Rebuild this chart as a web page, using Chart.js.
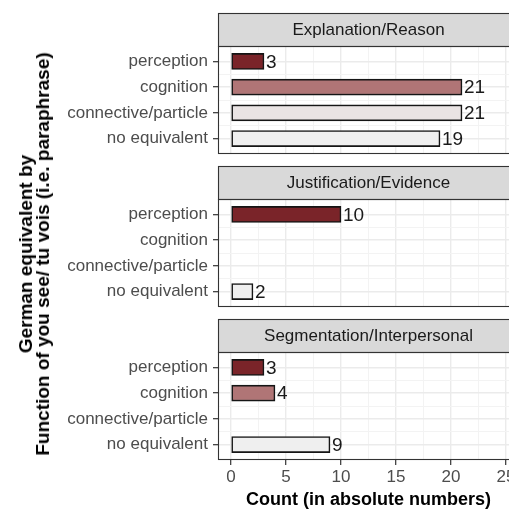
<!DOCTYPE html>
<html><head><meta charset="utf-8">
<script src="https://cdn.jsdelivr.net/npm/chart.js@4/dist/chart.umd.min.js"></script>
<style>
html,body{margin:0;padding:0;width:509px;height:511px;overflow:hidden;background:#fff;}
.wrap{position:absolute;left:0;width:520px;}
canvas{display:block;}
#ytitle{position:absolute;left:34px;top:254px;transform:translate(-50%,-50%) rotate(-90deg);font:bold 19px "Liberation Sans",Arial,sans-serif;color:#000;text-align:center;line-height:17px;white-space:nowrap;}
</style></head><body>
<div class="wrap" style="top:0;height:155px"><canvas id="c0" width="520" height="155"></canvas></div>
<div class="wrap" style="top:153px;height:155px"><canvas id="c1" width="520" height="155"></canvas></div>
<div class="wrap" style="top:306px;height:205px"><canvas id="c2" width="520" height="205"></canvas></div>
<div id="ytitle">German equivalent by<br>Function of you see/ tu vois (i.e. paraphrase)</div>
<script>
const categories = ['perception','cognition','connective/particle','no equivalent'];
const facets = ['Explanation/Reason','Justification/Evidence','Segmentation/Interpersonal'];
const explanationCounts = [3,21,21,19];
const justificationCounts = [10,null,null,2];
const segmentationCounts = [3,4,null,9];
const xTickValues = [0,5,10,15,20,25];
const xTitle = 'Count (in absolute numbers)';
const categoryColors = ['#7a2429','#b07576','#e9e3e3','#efefef'];

const FONT = '"Liberation Sans", Arial, sans-serif';
const xGridTicks = [];
xTickValues.forEach((v,i)=>{ xGridTicks.push(v); if(i<xTickValues.length-1) xGridTicks.push(v+ (xTickValues[1]-xTickValues[0])/2); });
const yGridTicks = [];
categories.forEach((c,i)=>{ yGridTicks.push(i+1); if(i<categories.length-1) yGridTicks.push(i+1.5); });

const decor = {
  id:'decor',
  afterDraw(chart, args, opts){
    const {ctx, chartArea:a} = chart;
    ctx.save();
    const stripTop = 13;
    ctx.fillStyle = '#d9d9d9';
    ctx.fillRect(a.left, stripTop, a.right-a.left, a.top-stripTop);
    ctx.strokeStyle = '#333333';
    ctx.lineWidth = 1.1;
    ctx.strokeRect(a.left+0.5, stripTop+0.5, a.right-a.left-1, a.top-stripTop);
    ctx.strokeRect(a.left+0.5, a.top+0.5, a.right-a.left-1, a.bottom-a.top-1);
    ctx.fillStyle = '#1a1a1a';
    ctx.font = '17px ' + FONT;
    ctx.textAlign = 'center';
    ctx.textBaseline = 'middle';
    ctx.fillText(opts.text, (a.left+a.right)/2, (stripTop+a.top)/2 + 1);
    ctx.restore();
  },
  afterDatasetsDraw(chart){
    const {ctx} = chart;
    const meta = chart.getDatasetMeta(0);
    const ds = chart.data.datasets[0].data;
    ctx.save();
    ctx.fillStyle = '#1a1a1a';
    ctx.font = '19px ' + FONT;
    ctx.textAlign = 'left';
    ctx.textBaseline = 'middle';
    meta.data.forEach((bar,i)=>{ ctx.fillText(String(ds[i].x), bar.x + 2, bar.y + 1); });
    ctx.restore();
  }
};

function makePanel(id, facet, counts, showX){
  const pts = counts.map((v,i)=> v==null ? null : {x:v, y:i+1}).filter(Boolean);
  new Chart(document.getElementById(id), {
    type:'bar',
    data:{datasets:[{
      data:pts,
      backgroundColor: c => categoryColors[(c.raw ? c.raw.y : 1) - 1],
      borderColor:'#151515', borderWidth:1.6, borderSkipped:false,
      barThickness:16
    }]},
    plugins:[decor],
    options:{
      indexAxis:'y', responsive:false, animation:false, events:[],
      layout:{padding:{top:46, right:1, bottom: showX?0:1, left:0}},
      plugins:{legend:{display:false}, tooltip:{enabled:false}, decor:{text:facet}},
      scales:{
        x:{
          type:'linear', min:-1.18, max:26.18, offset:false,
          afterBuildTicks: s => { s.ticks = xGridTicks.map(v=>({value:v})); },
          afterFit: s => { s.height = showX ? 51 : 0; s.paddingLeft = 0; s.paddingRight = 0; },
          border:{display:false},
          grid:{
            offset:false,
            color: c => (c.tick && c.tick.value % 5 === 0) ? '#ebebeb' : '#f3f3f3',
            lineWidth: c => (c.tick && c.tick.value % 5 === 0) ? 1.4 : 1,
            drawTicks: showX, tickLength:5,
            tickColor: c => (c.tick && c.tick.value % 5 === 0) ? '#333333' : 'rgba(0,0,0,0)',
            tickWidth:1.2
          },
          ticks:{
            display: showX, autoSkip:false, maxRotation:0, padding:2,
            color:'#4d4d4d', font:{family:FONT, size:17},
            callback: v => (v % 5 === 0) ? String(v) : ''
          },
          title:{display: showX, text: xTitle, color:'#000', font:{family:FONT, size:18, weight:'bold'}, padding:{top:0,bottom:0}}
        },
        y:{
          type:'linear', min:0.4, max:4.6, reverse:true, offset:false,
          afterBuildTicks: s => { s.ticks = yGridTicks.map(v=>({value:v})); },
          afterFit: s => { s.width = 218; s.paddingTop = 0; s.paddingBottom = 0; },
          border:{display:false},
          grid:{
            offset:false,
            color: c => (c.tick && Number.isInteger(c.tick.value)) ? '#ebebeb' : '#f3f3f3',
            lineWidth: c => (c.tick && Number.isInteger(c.tick.value)) ? 1.4 : 1,
            tickLength:5,
            tickColor: c => (c.tick && Number.isInteger(c.tick.value)) ? '#333333' : 'rgba(0,0,0,0)',
            tickWidth:1.2
          },
          ticks:{
            autoSkip:false, padding:5, color:'#4d4d4d', font:{family:FONT, size:17},
            callback: v => Number.isInteger(v) ? categories[v-1] : ''
          }
        }
      }
    }
  });
}
makePanel('c0', facets[0], explanationCounts, false);
makePanel('c1', facets[1], justificationCounts, false);
makePanel('c2', facets[2], segmentationCounts, true);
</script>
</body></html>
